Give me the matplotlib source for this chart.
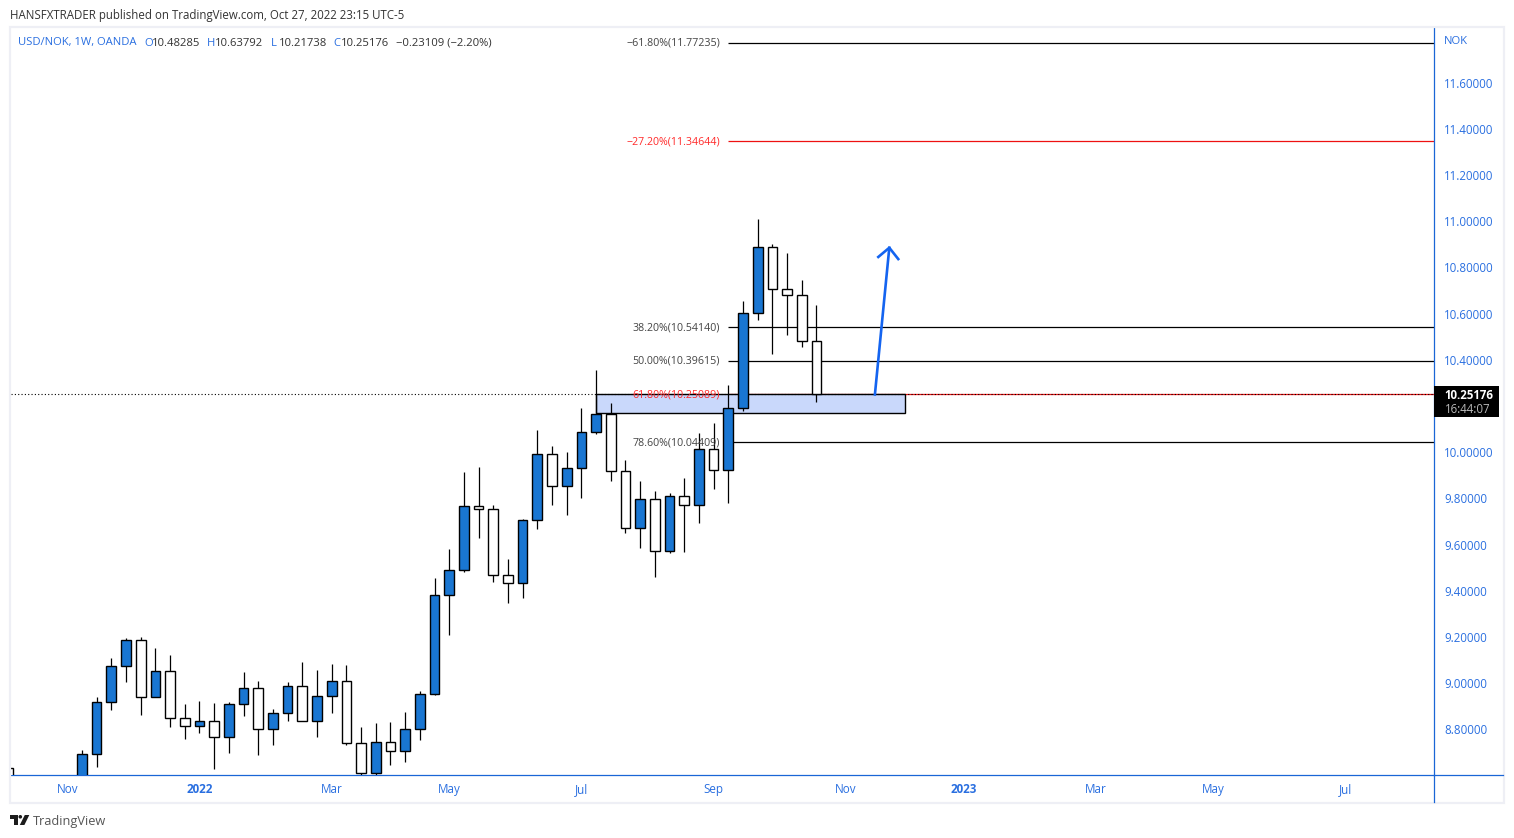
import matplotlib
matplotlib.use("Agg")
import matplotlib.pyplot as plt
from matplotlib.patches import Rectangle, Polygon, Circle
import numpy as np

plt.rcParams['font.family'] = ['Open Sans', 'DejaVu Sans']

# USD/NOK weekly candles, week -5 is cut by the left edge,
# weeks -4 to -1 are below the visible range
nan = float('nan')
weeks = list(range(-5, 51))
opens = [8.6334, nan, nan, nan, nan,
         8.55, 8.6927, 8.9177, 9.0735, 9.1860, 8.9393, 9.0518, 8.8484, 8.8138, 8.8354,
         8.7662, 8.9090, 8.9782, 8.8008, 8.8700, 8.9869, 8.8354, 8.9436, 9.0085, 8.7402,
         8.6104, 8.7445, 8.7056, 8.8008, 8.9523, 9.3807, 9.4889, 9.7659, 9.7529, 9.4673,
         9.4326, 9.7053, 9.9909, 9.8524, 9.9303, 10.0861, 10.1640, 9.9173, 9.6707, 9.7962,
         9.5712, 9.8092, 9.7702, 10.0126, 9.9217, 10.1900, 10.6011, 10.8868, 10.7050, 10.6790,
         10.48285]
highs = [8.6334, nan, nan, nan, nan,
         8.7113, 8.9393, 9.1081, 9.1946, 9.1990, 9.1513, 9.1210, 8.9090, 8.9220, 8.9133,
         8.9177, 9.0475, 9.0085, 8.8874, 9.0042, 9.0908, 9.0561, 9.0821, 9.0778, 8.8094,
         8.8267, 8.8311, 8.8744, 8.9653, 9.4556, 9.5798, 9.9143, 9.9360, 9.7715, 9.5378,
         9.7109, 10.0961, 10.0255, 9.9996, 10.1913, 10.3558, 10.2129, 9.9663, 9.8754, 9.8321,
         9.8221, 9.8871, 10.0818, 10.1251, 10.2908, 10.6544, 11.0092, 10.8997, 10.8608, 10.7439,
         10.63792]
lows = [8.48, nan, nan, nan, nan,
        8.50, 8.6390, 8.8856, 9.0068, 8.8640, 8.9393, 8.8121, 8.7601, 8.7861, 8.6303,
        8.6995, 8.8597, 8.6909, 8.7342, 8.8380, 8.8354, 8.7688, 8.8726, 8.7342, 8.6017,
        8.6031, 8.6476, 8.6606, 8.7558, 8.9492, 9.2089, 9.4829, 9.6300, 9.4395, 9.3487,
        9.3703, 9.6689, 9.7728, 9.7295, 9.8031, 10.0801, 9.8767, 9.6516, 9.5867, 9.4612,
        9.5625, 9.5694, 9.6949, 9.8420, 9.7815, 10.1796, 10.5734, 10.4263, 10.5085, 10.4540,
        10.21738]
closes = [8.50, nan, nan, nan, nan,
          8.6927, 8.9177, 9.0735, 9.1860, 8.9393, 9.0518, 8.8484, 8.8138, 8.8354, 8.7662,
          8.9090, 8.9782, 8.8008, 8.8700, 8.9869, 8.8354, 8.9436, 9.0085, 8.7402, 8.6104,
          8.7445, 8.7056, 8.8008, 8.9523, 9.3807, 9.4889, 9.7659, 9.7529, 9.4673, 9.4326,
          9.7053, 9.9909, 9.8524, 9.9303, 10.0861, 10.1640, 9.9173, 9.6707, 9.7962, 9.5712,
          9.8092, 9.7702, 10.0126, 9.9217, 10.1900, 10.6011, 10.8868, 10.7050, 10.6790, 10.4800,
          10.25176]

price_ticks = [8.8, 9.0, 9.2, 9.4, 9.6, 9.8, 10.0, 10.4, 10.6, 10.8, 11.0, 11.2, 11.4, 11.6]
time_ticks = [-1, 8, 17, 25, 34, 43, 52, 60, 69, 77, 86]
time_labels = ["Nov", "2022", "Mar", "May", "Jul", "Sep", "Nov", "2023", "Mar", "May", "Jul"]

fib_levels = [11.77235, 11.34644, 10.54140, 10.39615, 10.25089, 10.04409]
fib_names = ["−61.80%", "−27.20%", "38.20%", "50.00%", "61.80%", "78.60%"]
fib_colors = ["black", "#ee1111", "black", "black", "#ee1111", "black"]
last_close = 10.25176

# drawn arrow, week / price
arrow_x = [53.98, 54.96]
arrow_y = [10.25, 10.885]
head_x = [54.21, 54.96, 55.57]
head_y = [10.845, 10.885, 10.836]

W, H = 1514, 838
blue_text = "#2a6fe0"
blue_line = "#1a66d6"
body_blue = "#1976d2"
x_left, x_right = -4.83, 92.04

fig = plt.figure(figsize=(W / 100, H / 100), dpi=100, facecolor="white")
ax = fig.add_axes([11 / W, 1 - 775 / H, (1434 - 11) / W, (775 - 28) / H])
ax.set_xlim(x_left, x_right)
ax.set_ylim(8.603, 11.836)

# zone and levels go under the candles
ax.add_patch(Rectangle((35.0, 10.168), 56.0 - 35.0, 10.2518 - 10.168, facecolor="#c9d8fb",
                       edgecolor="black", linewidth=1.0, zorder=2))
ax.hlines(fib_levels, 44.0, x_right, colors=fib_colors, linewidth=0.9, zorder=1)
ax.hlines(last_close, x_left, x_right, colors="black", linewidth=0.8, linestyles=(0, (1, 2)), zorder=3)

for wk, o, h, l, c in zip(weeks, opens, highs, lows, closes):
    if np.isnan(o):
        continue
    ax.vlines(wk, l, h, colors="black", linewidth=0.9, zorder=4)
    ax.bar(wk, abs(c - o), bottom=min(o, c), width=0.66, color=body_blue if c >= o else "white",
           edgecolor="black", linewidth=1.0, zorder=5)

ax.plot(arrow_x, arrow_y, color="#1464f0", linewidth=1.9, zorder=6)
ax.plot(head_x, head_y, color="#1464f0", linewidth=1.9, zorder=6)

for lvl, name, col in zip(fib_levels, fib_names, fib_colors):
    ax.text(43.45, lvl - 0.003, f"{name}({lvl:.5f})", ha="right", va="center", fontsize=7.7,
            color="#444444" if col == "black" else "#ff2a2a", zorder=7)

ax.yaxis.tick_right()
ax.set_yticks(price_ticks)
ax.set_yticklabels([f"{p:.5f}" for p in price_ticks], color=blue_text, fontsize=8.3)
ax.set_xticks(time_ticks)
ax.set_xticklabels(time_labels, color=blue_text, fontsize=8.4)
for lab in ax.get_xticklabels():
    if lab.get_text() in ("2022", "2023"):
        lab.set_fontweight("bold")
ax.tick_params(axis="both", length=0)
ax.tick_params(axis="y", pad=7.2)
ax.tick_params(axis="x", pad=5.5)
for side in ("top", "left"):
    ax.spines[side].set_visible(False)
ax.spines["bottom"].set_color(blue_line)
ax.spines["right"].set_color(blue_line)
ax.spines["bottom"].set_linewidth(0.9)
ax.spines["right"].set_linewidth(0.9)

# page furniture in pixel coordinates
over = fig.add_axes([0, 0, 1, 1], zorder=5)
over.set_xlim(0, W)
over.set_ylim(H, 0)
over.set_axis_off()
over.add_patch(Rectangle((10, 27), 1494, 776, fill=False, edgecolor="#eeeff5", linewidth=1.6))
over.plot([1434, 1503], [775, 775], color=blue_line, linewidth=0.9)
over.plot([1434, 1434], [775, 802], color=blue_line, linewidth=0.9)

over.text(10, 16, "HANSFXTRADER published on TradingView.com, Oct 27, 2022 23:15 UTC-5",
          fontsize=8.3, color="#333333", va="center")

over.text(18, 43, "USD/NOK, 1W, OANDA", fontsize=8.1, color=blue_text, va="center")
for x, key, val in [(144, "O", "10.48285"), (207, "H", "10.63792"), (271, "L", "10.21738"), (333, "C", "10.25176")]:
    over.text(x, 43, key, fontsize=8.1, color=blue_text, va="center")
    over.text(x + 8, 43, val, fontsize=8.1, color="#333333", va="center")
over.text(396, 43, "−0.23109 (−2.20%)", fontsize=8.1, color="#333333", va="center")
over.text(1444, 42, "NOK", fontsize=8.1, color=blue_text, va="center")

# last price tag
over.add_patch(Rectangle((1434, 386), 65, 31, facecolor="black", edgecolor="none"))
over.text(1493, 395, "10.25176", fontsize=8.3, color="white", ha="right", va="center", fontweight="bold")
over.text(1491, 409, "16:44:07", fontsize=8.3, color="#b8b8b8", ha="right", va="center")

# TradingView mark
logo = "#1c1c1c"
over.add_patch(Polygon([(10, 815), (17.7, 815), (17.7, 825), (13.7, 825), (13.7, 818.6), (10, 818.6)],
                       facecolor=logo, edgecolor="none"))
over.add_patch(Circle((20.3, 816.8), 1.8, facecolor=logo, edgecolor="none"))
over.add_patch(Polygon([(24.8, 815), (29.3, 815), (24.4, 825), (19.8, 825)], facecolor=logo, edgecolor="none"))
over.text(33, 821, "TradingView", fontsize=9.2, color="#555555", va="center")

fig.savefig("out.png", dpi=100)
plt.close(fig)
